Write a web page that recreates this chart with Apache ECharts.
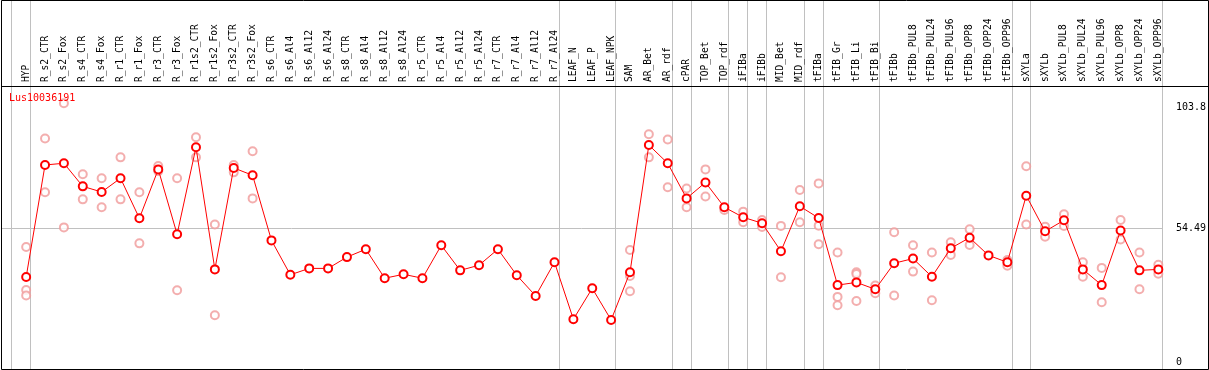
<!DOCTYPE html>
<html>
<head>
<meta charset="utf-8">
<script src="https://cdn.jsdelivr.net/npm/echarts@6/dist/echarts.min.js"></script>
<style>html,body{margin:0;padding:0;background:#fff}#c{width:1209px;height:370px}</style>
</head>
<body>
<div id="c"></div>
<script>
const titleText = 'Lus10036191';
const categories = ['HYP','R_s2_CTR','R_s2_Fox','R_s4_CTR','R_s4_Fox','R_r1_CTR','R_r1_Fox','R_r3_CTR','R_r3_Fox','R_r1s2_CTR','R_r1s2_Fox','R_r3s2_CTR','R_r3s2_Fox','R_s6_CTR','R_s6_Al4','R_s6_Al12','R_s6_Al24','R_s8_CTR','R_s8_Al4','R_s8_Al12','R_s8_Al24','R_r5_CTR','R_r5_Al4','R_r5_Al12','R_r5_Al24','R_r7_CTR','R_r7_Al4','R_r7_Al12','R_r7_Al24','LEAF_N','LEAF_P','LEAF_NPK','SAM','AR_Bet','AR_rdf','cPAR','TOP_Bet','TOP_rdf','iFIBa','iFIBb','MID_Bet','MID_rdf','tFIBa','tFIB_Gr','tFIB_Li','tFIB_Bi','tFIBb','tFIBb_PUL8','tFIBb_PUL24','tFIBb_PUL96','tFIBb_OPP8','tFIBb_OPP24','tFIBb_OPP96','sXYLa','sXYLb','sXYLb_PUL8','sXYLb_PUL24','sXYLb_PUL96','sXYLb_OPP8','sXYLb_OPP24','sXYLb_OPP96'];
const meanValues = [34.6,80.2,80.9,71.5,69.2,74.8,58.5,78.4,52.0,87.4,37.7,79.0,76.0,49.5,35.5,38.1,38.1,42.7,45.9,34.1,35.7,34.1,47.5,37.3,39.4,45.9,35.3,26.9,40.6,17.4,30.0,17.1,36.5,88.3,80.9,66.6,73.1,63.0,58.9,56.5,45.1,63.4,58.6,31.3,32.4,29.6,40.2,42.1,34.7,46.3,50.6,43.4,40.6,67.7,53.2,57.7,37.7,31.3,53.5,37.3,37.7];
const repA = [46.8,91.0,105.3,76.4,74.8,83.3,69.1,79.8,74.8,91.5,56.0,80.2,85.8,null,null,null,null,null,null,null,null,null,null,null,null,null,null,null,null,null,null,null,45.6,92.7,90.6,70.6,78.4,61.9,61.2,57.8,55.4,70.0,72.7,44.6,36.5,31.1,52.8,47.5,44.6,48.7,54.0,null,41.5,79.7,55.1,60.1,40.6,38.3,57.8,44.6,39.6];
const repB = [29.3,69.1,54.8,66.2,63.0,66.2,48.3,77.7,29.2,83.3,19.0,77.2,66.6,null,null,null,null,null,null,null,null,null,null,null,null,null,null,null,null,null,null,null,35.0,83.3,71.1,63.0,67.4,null,56.9,55.0,34.5,56.9,55.5,26.5,35.8,28.0,27.1,36.8,25.1,43.6,47.6,null,39.2,56.0,51.0,55.4,34.7,24.3,49.9,29.6,35.9];
const repC = [27.1,null,null,null,null,null,null,null,null,null,null,null,null,null,null,null,null,null,null,null,null,null,null,null,null,null,null,null,null,null,null,null,28.8,null,null,null,null,null,null,null,null,null,47.9,23.1,24.8,null,null,null,null,null,null,null,null,null,null,null,null,null,null,null,null];
const yTicks = [0, 54.49, 103.8];
// index of the last category of each group (-1 = left edge)
const groupEnds = [-1,0,28,31,34,35,37,38,39,41,42,45,52,53,60];

const FONT = 'DejaVu Sans Mono';
const mainData = meanValues.map((v,i)=>[i,v]);
const repData = [];
[repA,repB,repC].forEach(arr=>arr.forEach((v,i)=>{ if(v!==null) repData.push([i,v]); }));

const chart = echarts.init(document.getElementById('c'), null, {renderer:'canvas'});
const option = {
  animation:false,
  title:{text:titleText,left:4,top:88,textStyle:{color:'#ff0000',fontFamily:FONT,fontSize:10,fontWeight:'normal'}},
  grid:{left:7.3,right:23.7,top:107,bottom:8,containLabel:false},
  xAxis:{type:'value',position:'top',offset:20,min:-1,max:61,interval:1,
    axisLine:{show:false},axisTick:{show:false},splitLine:{show:false},
    axisLabel:{rotate:90,margin:5,color:'#000',fontFamily:FONT,fontSize:9.6,hideOverlap:false,
      showMinLabel:true,showMaxLabel:true,
      formatter:v=>categories[Math.round(v)]!==undefined && Math.abs(v-Math.round(v))<1e-6 ? categories[Math.round(v)] : ''}},
  yAxis:{type:'value',position:'right',offset:-15.3,min:yTicks[0],max:yTicks[2],interval:yTicks[1],
    axisLine:{show:false},axisTick:{show:false},splitLine:{show:false},
    axisLabel:{margin:14,color:'#000',fontFamily:FONT,fontSize:10,showMaxLabel:true,
      formatter:v=>String(+(+v).toFixed(2))}},
  series:[
    {type:'scatter',data:repData,symbol:'emptyCircle',symbolSize:8,clip:false,z:2,
     itemStyle:{color:'#f09a9a',borderColor:'#f09a9a',borderWidth:1.2}},
    {type:'line',data:mainData,symbol:'emptyCircle',symbolSize:8,clip:false,z:3,
     lineStyle:{color:'#ff0000',width:1},itemStyle:{color:'#ff0000',borderColor:'#ff0000',borderWidth:1.4}}
  ]
};
chart.setOption(option);

const sepOffset = 0.22;
const gfx = [];
groupEnds.forEach(i=>{
  const px = Math.round(chart.convertToPixel({xAxisIndex:0}, i+sepOffset)) + 0.5;
  gfx.push({type:'line',z:0,shape:{x1:px,y1:0,x2:px,y2:369},style:{stroke:'#c0c0c0',lineWidth:1}});
});
const rightX = Math.round(chart.convertToPixel({xAxisIndex:0}, groupEnds[groupEnds.length-1]+sepOffset)) + 0.5;
const py = Math.round(chart.convertToPixel({yAxisIndex:0}, yTicks[1])) + 0.5;
gfx.push({type:'line',z:0,shape:{x1:1,y1:py,x2:rightX,y2:py},style:{stroke:'#c0c0c0',lineWidth:1}});
gfx.push({type:'line',z:1,shape:{x1:1,y1:86.5,x2:1209,y2:86.5},style:{stroke:'#000',lineWidth:1}});
gfx.push({type:'rect',z:1,shape:{x:1.5,y:0.5,width:1207,height:369},style:{fill:null,stroke:'#000',lineWidth:1}});
chart.setOption({graphic:{elements:gfx}});
</script>
</body>
</html>
